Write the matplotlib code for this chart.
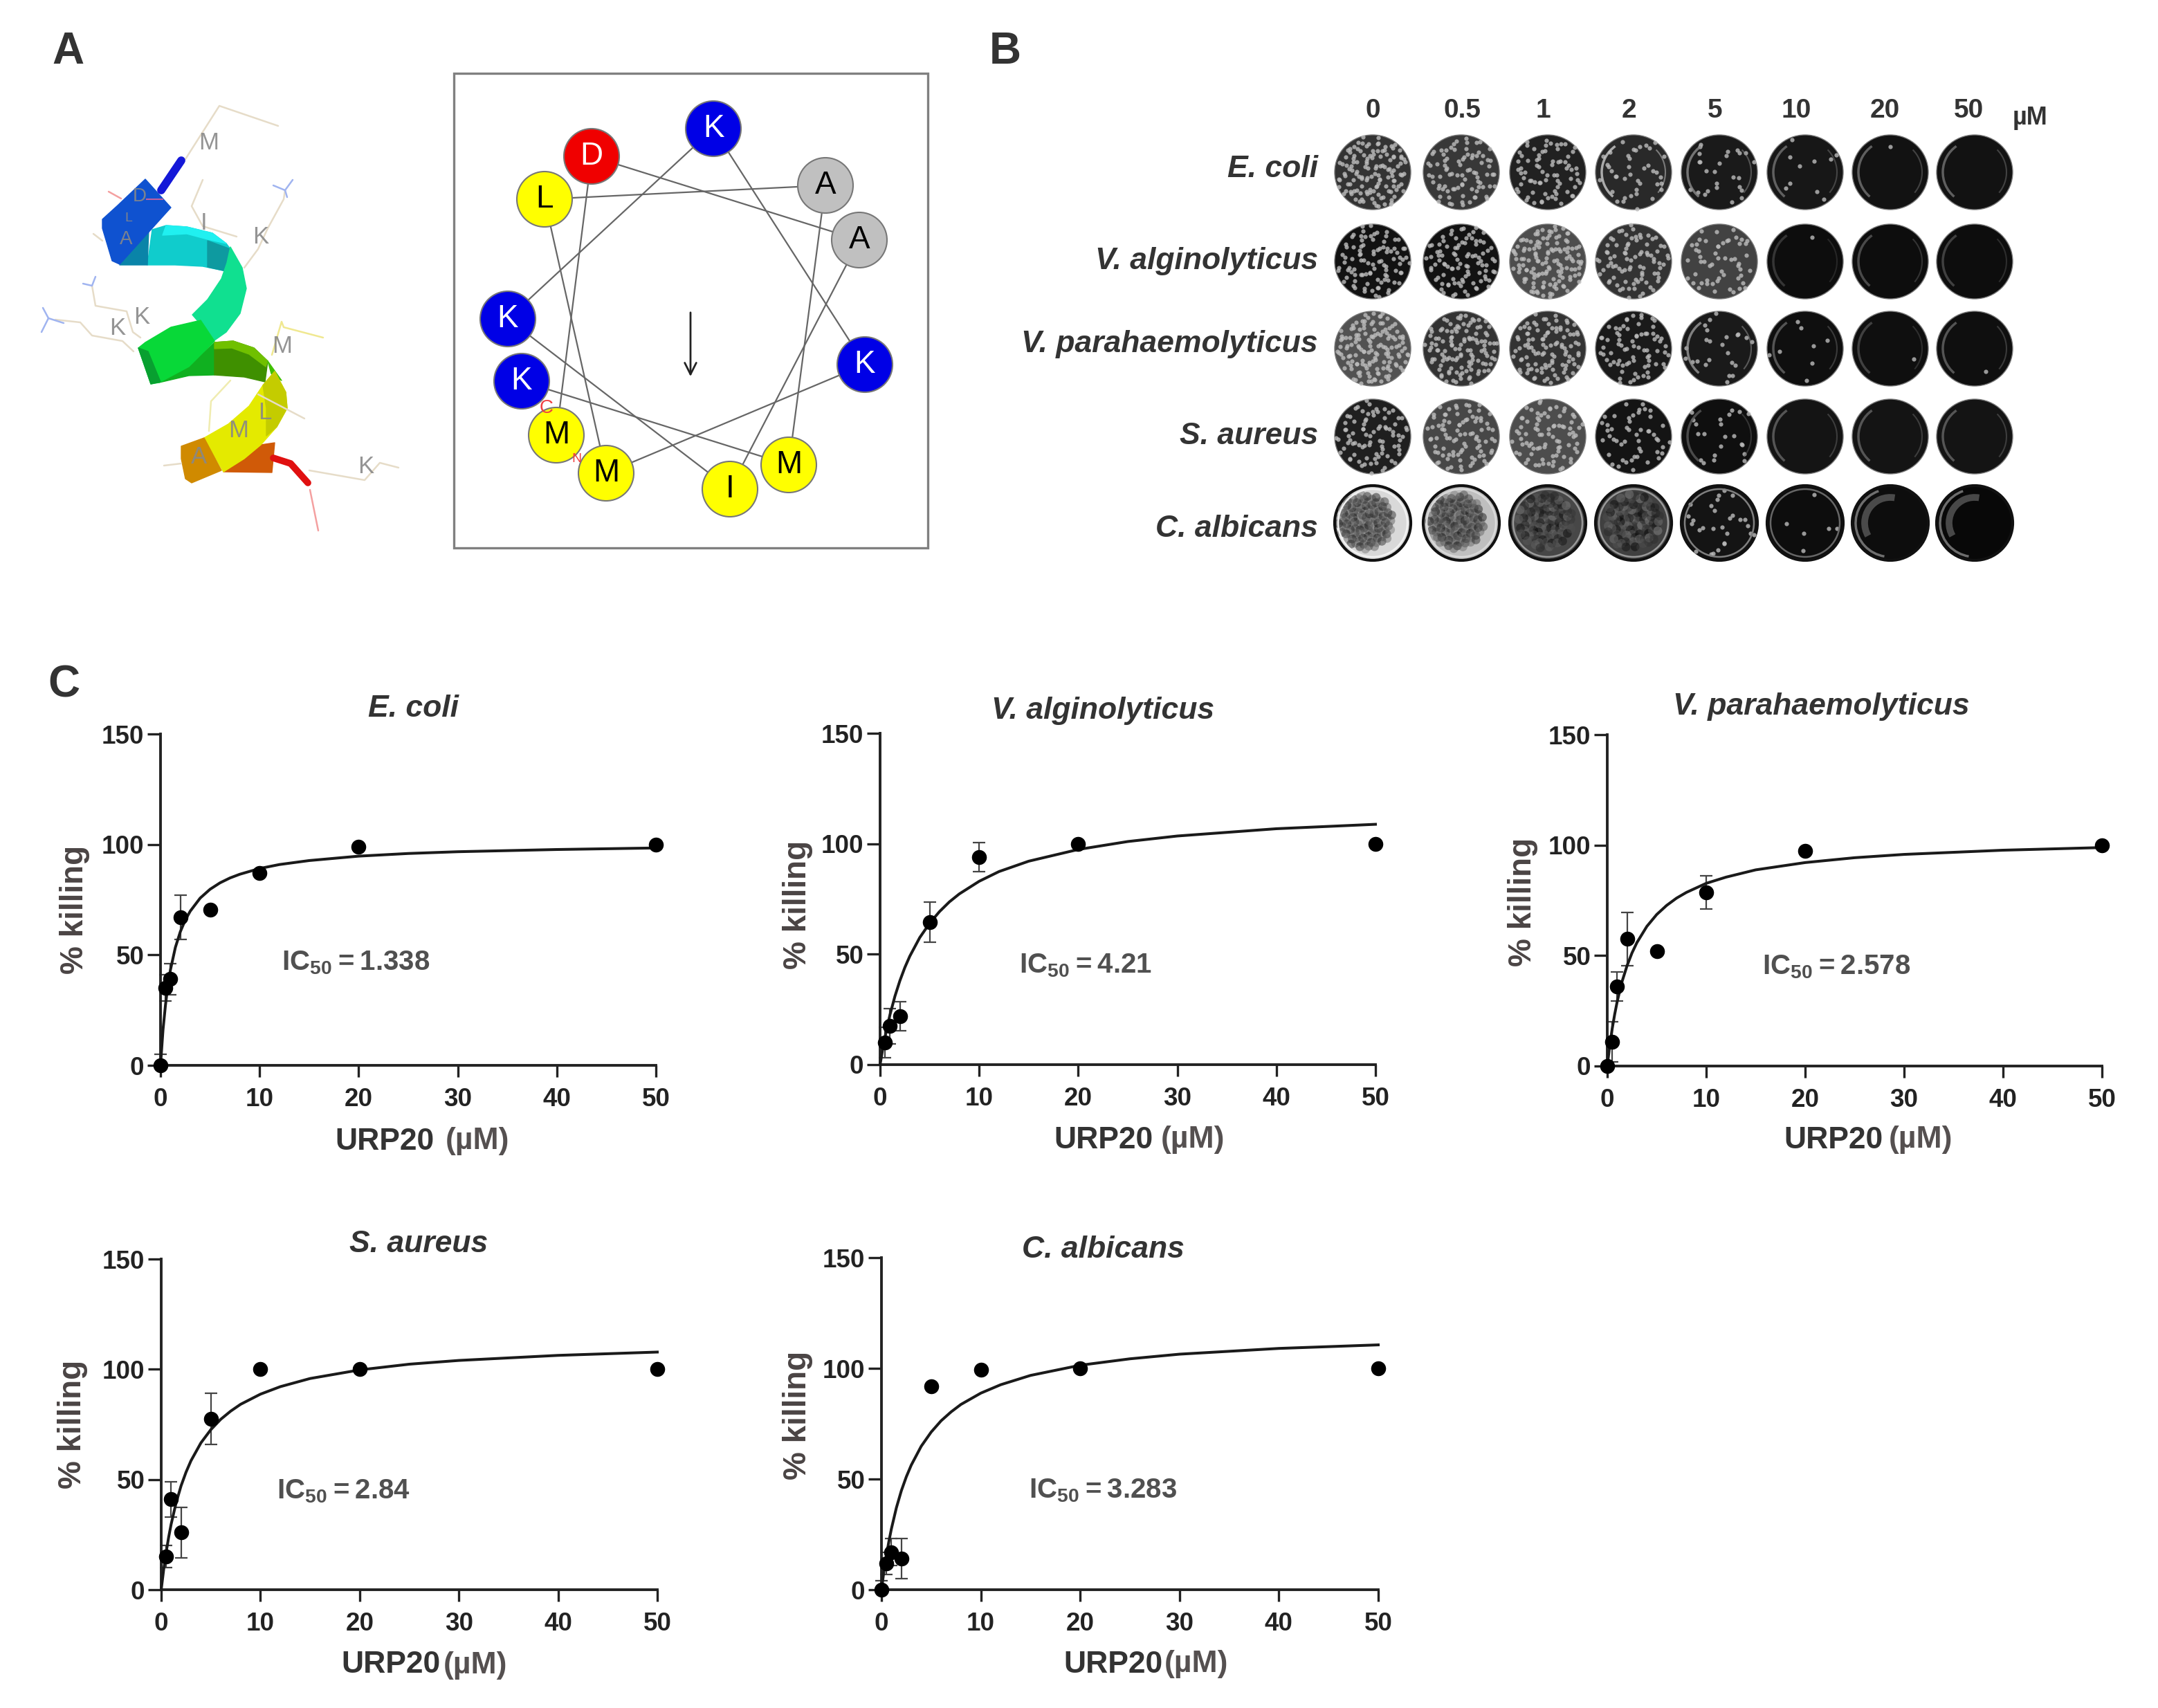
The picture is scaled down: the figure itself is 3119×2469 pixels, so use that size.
import numpy as np
import matplotlib
matplotlib.use("Agg")
import matplotlib.pyplot as plt
from matplotlib.patches import Circle, Ellipse, Polygon, Arc, Rectangle

plt.rcParams['font.family'] = ['Liberation Sans', 'DejaVu Sans']
plt.rcParams['mathtext.fontset'] = 'custom'
plt.rcParams['mathtext.bf'] = 'Liberation Sans:bold'
plt.rcParams['mathtext.rm'] = 'Liberation Sans:bold'

W, H = 3119, 2469
TXT = '#333333'

# ---- panel C data
conc = [0, 0.5, 1, 2, 5, 10, 20, 50]
fit_x = [0, 0.25, 0.5, 0.75, 1, 1.5, 2, 2.5, 3, 4, 5, 6, 7, 8, 10, 12, 15, 20, 25, 30, 40, 50]

ecoli_y = [0, 35, 39, 67, 70.5, 87, 99, 100]
ecoli_err = [5, 6, 7, 10, 0, 0, 0, 0]
ecoli_fit = [0, 16, 27.3, 36.3, 43.2, 53.4, 60.5, 65.8, 69.8, 75.7, 79.7, 82.6, 84.8, 86.5, 89.1, 90.9,
             92.7, 94.7, 95.9, 96.7, 97.7, 98.4]

valg_x = [0.5, 1, 2, 5, 10, 20, 50]
valg_y = [10, 17.5, 22, 64.5, 94, 100, 100]
valg_err = [7, 8, 6.5, 9, 6.5, 0, 0]
valg_fit = [0, 6.6, 12.5, 17.8, 22.6, 31, 38, 44, 49.1, 57.5, 64, 69.3, 73.7, 77.3, 83, 87.4,
            92.1, 97.4, 101, 103.5, 106.8, 108.8]

vpar_y = [0, 11, 36, 57.5, 52, 78.5, 97.5, 100]
vpar_err = [0, 9, 6.5, 12, 0, 7.5, 0, 0]
vpar_fit = [0, 9.2, 16.9, 23.4, 29.1, 38.3, 45.4, 51.2, 55.9, 63.2, 68.6, 72.7, 76, 78.6, 82.7, 85.5,
            88.8, 92.1, 94.3, 95.8, 97.7, 98.9]

saur_x = [0.5, 1, 2, 5, 10, 20, 50]
saur_y = [15, 41, 26, 77.5, 100, 100, 100]
saur_err = [5, 8, 11.5, 11.5, 0, 0, 0]
saur_fit = [0, 9.2, 17, 23.8, 29.7, 39.4, 47.1, 53.3, 58.5, 66.6, 72.6, 77.3, 81, 84.1, 88.7, 92.1,
            95.8, 99.7, 102.3, 104, 106.3, 107.8]

calb_y = [0, 12, 17, 14, 92, 99.5, 100, 100]
calb_err = [4, 5, 6, 9, 0, 0, 0, 0]
calb_fit = [0, 8.4, 15.6, 21.9, 27.5, 37, 44.7, 51, 56.3, 64.8, 71.2, 76.3, 80.3, 83.7, 88.8, 92.6,
            96.8, 101.4, 104.3, 106.4, 109, 110.6]

# x0, x50, y150, y0 in pixels
panel_names = ['E. coli', 'V. alginolyticus', 'V. parahaemolyticus', 'S. aureus', 'C. albicans']
panel_x = [conc, valg_x, conc, saur_x, conc]
panel_y = [ecoli_y, valg_y, vpar_y, saur_y, calb_y]
panel_err = [ecoli_err, valg_err, vpar_err, saur_err, calb_err]
panel_fit = [ecoli_fit, valg_fit, vpar_fit, saur_fit, calb_fit]
panel_ic = ['1.338', '4.21', '2.578', '2.84', '3.283']
panel_box = [(232, 948, 1061, 1540), (1272, 1988, 1060, 1539), (2323, 3038, 1062, 1541),
             (233, 950, 1820, 2298), (1274, 1992, 1818, 2298)]
title_xy = [(598, 1024), (1594, 1027), (2632, 1021), (605, 1798), (1594, 1806)]
xlab_split = [(628, 644), (1667, 1678), (2722, 2730), (637, 641), (1681, 1683)]
xlab_y = [1650, 1648, 1648, 2407, 2406]
ylab_xy = [(108, 1315), (1153, 1308), (2201, 1304), (105, 2059), (1153, 2046)]
ic_xy = [(407, 1392), (1473, 1396), (2547, 1398), (400, 2156), (1487, 2155)]

# ---- panel B data
plate_doses = ['0', '0.5', '1', '2', '5', '10', '20', '50']
dose_x = [1984, 2114, 2230, 2354, 2479, 2596, 2724, 2845]
plate_x = [1984, 2112, 2237, 2361, 2485, 2609, 2732, 2854]
plate_y = [249, 378, 504, 631, 756]
plate_labels = ['E. coli', 'V. alginolyticus', 'V. parahaemolyticus', 'S. aureus', 'C. albicans']
label_y = [244, 377, 498, 630, 764]
colony_counts = [[130, 85, 75, 40, 26, 10, 1, 0],
                 [95, 95, 130, 85, 55, 1, 0, 0],
                 [140, 120, 105, 75, 24, 8, 1, 1],
                 [85, 90, 85, 50, 22, 0, 0, 0],
                 [0, 0, 0, 0, 28, 6, 0, 0]]
plate_grey = [[0.20, 0.22, 0.13, 0.16, 0.10, 0.09, 0.07, 0.07],
              [0.07, 0.07, 0.30, 0.20, 0.26, 0.05, 0.05, 0.05],
              [0.32, 0.20, 0.20, 0.10, 0.10, 0.06, 0.06, 0.06],
              [0.12, 0.28, 0.30, 0.08, 0.06, 0.08, 0.08, 0.08],
              [0.85, 0.75, 0.28, 0.25, 0.08, 0.05, 0.05, 0.03]]
rim_grey = [[0, 0, 0, 0.8, 0.55, 0.45, 0.45, 0.45],
            [0, 0, 0, 0, 0, 0.25, 0.35, 0.3],
            [0, 0, 0, 0, 0.6, 0.4, 0.3, 0.4],
            [0, 0, 0, 0, 0.35, 0.4, 0.4, 0.4],
            [0, 0, 0, 0, 0, 0, 0, 0]]
ring_grey = [0.95, 0.85, 0.6, 0.6, 0.5, 0.4, 0, 0]

# ---- panel A data
wheel_res = ['K', 'D', 'A', 'L', 'A', 'K', 'K', 'K', 'M', 'M', 'I', 'M']
wheel_x = [1031, 855, 1193, 787, 1242, 734, 1250, 754, 804, 876, 1055, 1140]
wheel_y = [186, 226, 268, 288, 347, 461, 527, 551, 629, 684, 707, 672]
wheel_col = {'K': '#0000e6', 'D': '#f00000', 'A': '#c0c0c0', 'L': '#ffff00', 'M': '#ffff00', 'I': '#ffff00'}
wheel_links = [(7, 11), (11, 2), (2, 3), (3, 9), (9, 6), (6, 0), (0, 5), (5, 10), (10, 4), (4, 1), (1, 8)]

ribbon = [
    ([(377, 643), (397, 640), (393, 683), (323, 682)], '#d05a08'),
    ([(230, 553), (273, 530), (310, 495), (310, 542), (273, 543)], '#10b020'),
    ([(310, 495), (337, 493), (367, 503), (387, 522), (383, 552), (353, 545), (310, 542)], '#3f9000'),
    ([(310, 495), (337, 493), (367, 503), (387, 522), (384, 530), (360, 512), (335, 503), (310, 504)], '#70c000'),
    ([(387, 522), (407, 550), (397, 545), (392, 540)], '#40c000'),
    ([(213, 383), (220, 332), (240, 326), (270, 328), (307, 337), (327, 352), (333, 360), (327, 392),
      (293, 385), (253, 383)], '#10cccc'),
    ([(240, 326), (270, 328), (307, 337), (327, 352), (300, 346), (270, 338), (235, 340)], '#20f0f0'),
    ([(300, 348), (333, 360), (327, 392), (300, 386)], '#0e9aa0'),
    ([(173, 383), (213, 383), (215, 332)], '#0a84a8'),
    ([(210, 259), (247, 300), (173, 382), (162, 377), (148, 330), (148, 317), (170, 297)], '#0f52d0'),
    ([(333, 357), (350, 387), (356, 417), (347, 453), (327, 480), (310, 492), (278, 455), (300, 433),
      (320, 403), (328, 380)], '#10e090'),
    ([(200, 503), (218, 555), (230, 553), (273, 530), (310, 493), (290, 463), (247, 473), (210, 495)], '#08d838'),
    ([(200, 503), (218, 555), (232, 552), (214, 508)], '#08a030'),
    ([(397, 537), (413, 567), (415, 590), (400, 617), (377, 643), (353, 663), (323, 682), (295, 633),
      (330, 613), (360, 587), (380, 557), (393, 542)], '#e4ea00'),
    ([(380, 557), (397, 537), (413, 567), (415, 590), (400, 617), (385, 630), (385, 590)], '#c4cc00'),
    ([(262, 645), (295, 633), (320, 680), (277, 698), (268, 692), (262, 663)], '#d08a00'),
]
chains = [
    ([(268, 230), (317, 153), (402, 182)], '#e6dcc8'),
    ([(342, 342), (293, 327), (277, 298), (293, 260)], '#e6dcc8'),
    ([(353, 387), (373, 360), (387, 330), (410, 288), (412, 275)], '#e6dcc8'),
    ([(203, 488), (192, 480), (183, 450), (138, 442), (133, 413)], '#e6dcc8'),
    ([(193, 508), (177, 493), (133, 485), (116, 466), (80, 462)], '#e6dcc8'),
    ([(393, 513), (407, 465), (410, 473), (467, 488)], '#f0e890'),
    ([(373, 570), (440, 605)], '#e6dcc8'),
    ([(302, 623), (305, 580), (333, 550)], '#f0ecb0'),
    ([(447, 680), (527, 694), (549, 669), (576, 676)], '#e6dcc8'),
    ([(237, 673), (262, 670)], '#e6dcc8'),
    ([(448, 708), (460, 767)], '#f4a0a0'),
    ([(157, 277), (175, 287)], '#f4a0a0'),
    ([(135, 338), (148, 348)], '#e6dcc8'),
    ([(395, 268), (412, 275), (423, 260)], '#a0b4f0'),
    ([(412, 275), (415, 285)], '#a0b4f0'),
    ([(120, 410), (133, 413), (138, 400)], '#a0b4f0'),
    ([(60, 480), (70, 460), (62, 445)], '#a0b4f0'),
    ([(70, 460), (92, 467)], '#a0b4f0'),
]
ribbon_letters = [('M', 302, 206, 25), ('D', 202, 284, 20), ('I', 295, 322, 25), ('K', 377, 342, 25),
                  ('A', 182, 346, 20), ('L', 186, 315, 14), ('K', 205, 458, 25), ('K', 170, 475, 25),
                  ('M', 408, 500, 25), ('L', 383, 597, 25), ('M', 345, 623, 25), ('A', 287, 660, 25),
                  ('K', 529, 674, 25)]

fig = plt.figure(figsize=(W / 100, H / 100), dpi=100, facecolor='white')
bg = fig.add_axes([0, 0, 1, 1])
bg.set_xlim(0, W)
bg.set_ylim(H, 0)
bg.axis('off')


def label(x, y, s, size=30, style='normal', weight='bold', color=TXT, **kw):
    kw.setdefault('ha', 'center')
    kw.setdefault('va', 'center')
    bg.text(x, y, s, fontsize=size, style=style, weight=weight, color=color, **kw)


label(98, 75, 'A', size=46)
label(1453, 75, 'B', size=46)
label(92, 990, 'C', size=46)

# helix ribbon
for pts, col in chains:
    xs, ys = zip(*pts)
    bg.plot(xs, ys, color=col, lw=1.8, solid_capstyle='round')
for pts, col in ribbon:
    bg.add_patch(Polygon(pts, closed=True, fc=col, ec=col, lw=1, joinstyle='round'))
bg.plot([262, 233], [232, 275], color='#1418d8', lw=8.5, solid_capstyle='round')
bg.plot([395, 420, 445], [662, 670, 698], color='#e01010', lw=7, solid_capstyle='round')
bg.plot([212, 235], [288, 288], color='#c060a0', lw=1.5)
for s, x, y, sz in ribbon_letters:
    label(x, y, s, size=sz, weight='normal', color='#888888', alpha=0.9)

# helical wheel
bg.add_patch(Rectangle((656, 106), 685, 686, fc='white', ec='#808080', lw=2.4))
for a, b in wheel_links:
    bg.plot([wheel_x[a], wheel_x[b]], [wheel_y[a], wheel_y[b]], color='#666666', lw=1.6, zorder=2)
for s, x, y in zip(wheel_res, wheel_x, wheel_y):
    bg.add_patch(Circle((x, y), 40, fc=wheel_col[s], ec='#777777', lw=1.5, zorder=3))
    tc = 'white' if s in 'KD' else 'black'
    bg.text(x, y, s, fontsize=33, color=tc, ha='center', va='center', zorder=4)
bg.text(790, 590, 'C', fontsize=20, color='#f04040', ha='center', va='center', zorder=4)
bg.text(833, 664, 'N', fontsize=14, color='#f04040', ha='center', va='center', zorder=4)
bg.annotate('', xy=(998, 547), xytext=(998, 449),
            arrowprops=dict(arrowstyle='->,head_length=1.2,head_width=0.6', color='#222222', lw=2))

# agar plates
for s, x in zip(plate_doses, dose_x):
    label(x, 160, s, size=28)
label(2934, 171, 'µM', size=26)
for s, y in zip(plate_labels, label_y):
    label(1905, y, s, size=32, style='italic', ha='right')

for r, y in enumerate(plate_y):
    for c, x in enumerate(plate_x):
        grey = plate_grey[r][c]
        rim = rim_grey[r][c]
        n = colony_counts[r][c]
        edge = '#111111' if r == 4 else '#777777'
        bg.add_patch(Ellipse((x, y), 110, 108, fc=str(grey), ec=edge, lw=3 if r == 4 else 1, zorder=2))
        if r == 4 and c < 4:
            # yeast lawn: cloudy dark patches, pushed left so the pale side shows
            k = np.arange(110)
            rr = 40 * np.sqrt((k + 0.5) / 110)
            th = k * 2.39996 + c
            shade = 0.25 + 0.2 * np.sin(k * 1.7) + 0.05 * c * np.cos(k)
            bg.scatter(x - 10 + 3 * c + rr * np.cos(th), y - 2 + rr * np.sin(th), s=85, c=shade, cmap='gray',
                       vmin=0, vmax=1, alpha=0.45, lw=0, zorder=3)
        elif n > 0:
            k = np.arange(n)
            rr = 52 * np.sqrt((k + 0.5) / n) * (1 + 0.06 * np.sin(k * 7.3))
            th = k * 2.39996 + c * 0.7 + r + 0.5 * np.cos(k * 3.1)
            rr = np.minimum(rr, 53)
            bg.scatter(x + rr * np.cos(th), y + rr * np.sin(th), s=20, c='#bdbdbd',
                       alpha=0.8, lw=0, zorder=3)
        if rim > 0:
            bg.add_patch(Arc((x, y), 92, 92, theta1=130, theta2=235, color=str(rim), lw=2.5, alpha=0.8, zorder=4))
            bg.add_patch(Arc((x, y), 92, 92, theta1=-45, theta2=40, color=str(rim), lw=1.5, alpha=0.5, zorder=4))
        if r == 4 and ring_grey[c] > 0:
            bg.add_patch(Ellipse((x, y), 100, 98, fc='none', ec=str(ring_grey[c]), lw=1.8, zorder=4))
        if r == 4 and c >= 6:
            bg.add_patch(Arc((x, y), 74, 74, theta1=150, theta2=280, color='0.45', lw=7, alpha=0.6, zorder=4))
            bg.add_patch(Arc((x, y), 100, 98, theta1=100, theta2=250, color='0.6', lw=2.5, alpha=0.7, zorder=4))

# killing curves
for i in range(5):
    x0, x1, ytop, ybot = panel_box[i]
    ax = fig.add_axes([x0 / W, 1 - ybot / H, (x1 - x0) / W, (ybot - ytop) / H], facecolor='none')
    xv = np.array(panel_x[i], dtype=float)
    yv = np.array(panel_y[i], dtype=float)
    ev = np.array(panel_err[i], dtype=float)
    has = ev > 0
    ax.errorbar(xv[has], yv[has], yerr=[np.minimum(ev, yv)[has], ev[has]], fmt='none',
                ecolor='#444444', elinewidth=1.6, capsize=6.5, capthick=1.6, clip_on=False)
    ax.plot(fit_x, panel_fit[i], color='#1a1a1a', lw=2.9, clip_on=False, zorder=3)
    ax.plot(xv, yv, 'o', color='black', ms=15.5, mew=0, clip_on=False, zorder=4)
    ax.set_xlim(0, 50)
    ax.set_ylim(0, 150)
    ax.set_xticks([0, 10, 20, 30, 40, 50])
    ax.set_yticks([0, 50, 100, 150])
    for side in ['top', 'right']:
        ax.spines[side].set_visible(False)
    for side in ['left', 'bottom']:
        ax.spines[side].set_linewidth(2.8)
        ax.spines[side].set_color('#222222')
    ax.tick_params(axis='x', length=12, width=2.4, pad=11, labelsize=26.5, color='#222222', labelcolor='#222222')
    ax.tick_params(axis='y', length=14, width=2.4, pad=3, labelsize=26.5, color='#222222', labelcolor='#222222')
    for t in ax.get_xticklabels() + ax.get_yticklabels():
        t.set_fontweight('bold')

    tx, ty = title_xy[i]
    label(tx, ty, panel_names[i], size=32, style='italic')
    xa, xb = xlab_split[i]
    label(xa, xlab_y[i], 'URP20', size=32, ha='right')
    label(xb, xlab_y[i], '(µM)', size=32, ha='left', color='#555050')
    yx, yy = ylab_xy[i]
    label(yx, yy, '% killing', size=33, rotation=90, color='#4a4444')
    ix, iy = ic_xy[i]
    label(ix, iy, r'$\mathbf{IC_{50}}$' + '\u2009=\u2009' + panel_ic[i], size=29, ha='left', color='#505050')

fig.savefig('out.png', dpi=100)
